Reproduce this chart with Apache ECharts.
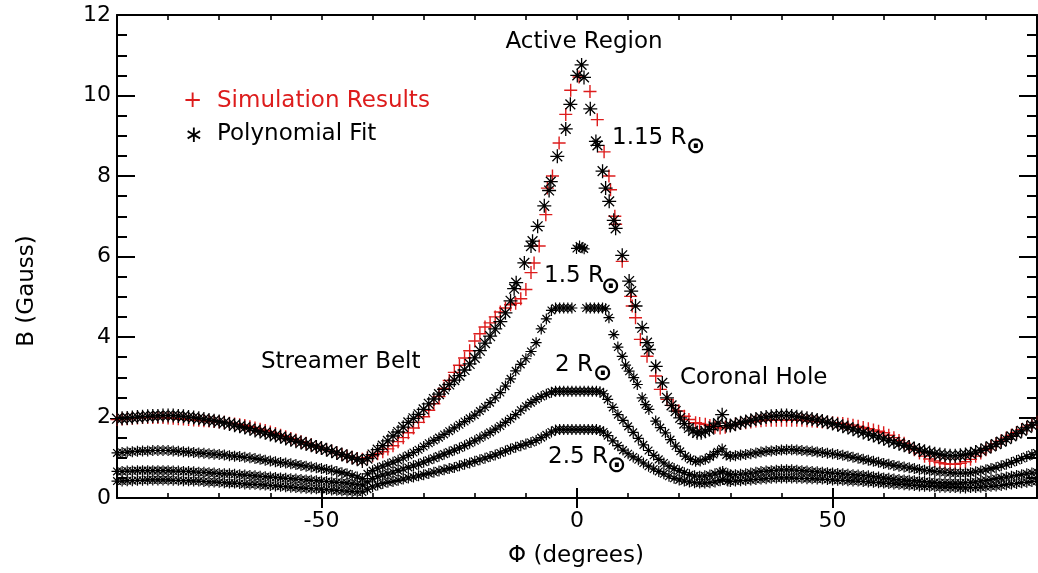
<!DOCTYPE html>
<html><head><meta charset="utf-8">
<script src="https://cdn.jsdelivr.net/npm/echarts@6/dist/echarts.min.js"></script>
<style>html,body{margin:0;padding:0;background:#fff}#main{width:1038px;height:573px}</style>
</head><body><div id="main"></div>
<script>
// ---- phi (degrees) grids ----
const phiLeft = [-90,-89,-88,-87,-86,-85,-84,-83,-82,-81,-80,
  -79,-78,-77,-76,-75,-74,-73,-72,-71,-70,
  -69,-68,-67,-66,-65,-64,-63,-62,-61,-60,
  -59,-58,-57,-56,-55,-54,-53,-52,-51,-50,
  -49,-48,-47,-46,-45,-44,-43,-42];
const phiRiseFit = [-41,-40,-39,-38,-37,-36,-35,-34,-33,
  -32,-31,-30,-29,-28,-27,-26,-25,-24,-23,
  -22,-21,-20,-19,-18,-17,-16,-15,-14,-13];
const phiRiseSim = [-41,-40,-39,-38,-37,-36,-35,-34,-33,
  -32,-31,-30,-29,-28,-27,-26,-25,-24,-23,
  -22,-21,-20,-19,-18,-17,-16,-15,-14,-13,-12,-11];
const phiRiseOuter = [-41,-40,-39,-38,-37,-36,-35,-34,-33,
  -32,-31,-30,-29,-28,-27,-26,-25,-24,-23,
  -22,-21,-20,-19,-18,-17,-16,-15,-14,-13,
  -12,-11,-10,-9,-8,-7,-6,-5];
const phiRight = [31,32,33,34,35,36,37,38,39,
  40,41,42,43,44,45,46,47,48,49,
  50,51,52,53,54,55,56,57,58,59,
  60,61,62,63,64,65,66,67,68,69,
  70,71,72,73,74,75,76,77,78,79,
  80,81,82,83,84,85,86,87,88,89,90];
const phiCoreFit = [-12.3,-11.9,-10.3,-9.0,-8.7,-7.7,-6.4,-5.46,-5.13,-3.85,
  -2.2,-1.3,0.06,0.9,1.37,2.6,3.7,4.0,5.0,5.6,
  6.3,7.2,7.56,8.85,10.2,10.6,11.45,12.75,13.7,14.06,
  15.4,16.7,17.6,18.5,19.3,20.2,21.0,21.9,22.7,23.5,
  24.3,25.1,25.9,26.7,27.6,28.4,29.2,30.0];
const phiCoreSim = [-10,-9,-8.4,-7.4,-6.1,-5.8,-4.8,-3.5,-2.2,-1.23,
  0.4,2.54,3.97,5.3,6.25,6.56,7.4,7.56,8.85,10.5,
  10.8,11.45,12.4,13.7,15.4,16.3,17.6,18.8,19.9,21,
  21.9,23.2,24,25.1,26,27,28,29,30];
const phiCore15 = [-4.2,-3.4,-2.6,-1.8,-1.0,-0.1,0.5,1.0,1.4,1.8,
  2.6,3.4,4.2,5.0,5.6,6.25,7.2,8.0,8.85,9.5,
  10.2,11.1,11.8,12.75,13.4,14.06,15.4,16.3,17.3,18.3,
  19.3,20.2,21.2,22.2,23.2,24.1,25.1,26.0,26.7,27.5,
  28.4,29.2,30.0];
const phiCoreOuter = [-4.2,-3.4,-2.6,-1.8,-1.0,-0.2,0.6,1.4,2.2,3.0,
  3.8,4.5,5.2,6,7,8,9,10,11,12,
  13,14,15,16,17,18,19,20,21,22,
  23,24,25,26,27,28,28.5,29.5,30];

// ---- B (Gauss): simulation results at 1.15 Rsun ----
const simLeft = [1.95,1.96,1.97,1.98,1.99,2.00,2.00,2.00,2.00,2.00,1.99,
  1.98,1.97,1.96,1.95,1.94,1.93,1.92,1.91,1.90,1.89,
  1.88,1.86,1.84,1.82,1.80,1.77,1.74,1.71,1.68,1.64,
  1.60,1.56,1.52,1.48,1.44,1.40,1.36,1.32,1.28,1.24,
  1.20,1.16,1.12,1.08,1.04,1.01,0.98,0.96];
const simRise = [1.00,1.05,1.10,1.15,1.22,1.30,1.40,1.50,1.62,
  1.74,1.88,2.02,2.18,2.34,2.52,2.72,2.92,3.12,3.30,
  3.48,3.66,3.90,4.08,4.25,4.35,4.50,4.62,4.72,4.80,4.84,4.95];
const simCore = [5.18,5.60,5.84,6.26,7.04,7.70,8.00,8.82,9.53,10.13,
  10.46,10.10,9.40,8.60,8.00,7.66,7.00,6.80,5.88,5.01,
  4.77,4.48,3.94,3.52,3.03,2.70,2.45,2.30,2.16,2.03,
  1.95,1.87,1.85,1.83,1.80,1.76,1.74,1.76,1.80];
const simRight = [1.83,1.85,1.87,1.89,1.91,1.92,1.93,1.93,1.93,
  1.93,1.93,1.93,1.93,1.93,1.92,1.91,1.90,1.89,1.88,
  1.87,1.86,1.85,1.83,1.81,1.78,1.75,1.72,1.69,1.66,
  1.62,1.56,1.50,1.43,1.36,1.28,1.20,1.12,1.04,0.97,
  0.92,0.88,0.85,0.84,0.84,0.86,0.90,0.96,1.04,1.12,
  1.20,1.28,1.35,1.42,1.49,1.56,1.63,1.70,1.76,1.82,1.88];

// ---- polynomial fit, 1.15 Rsun ----
const fitLeft = [1.97,1.98,1.99,2.00,2.01,2.02,2.03,2.04,2.04,2.05,2.05,
  2.05,2.04,2.03,2.01,2.00,1.98,1.96,1.94,1.92,1.90,
  1.87,1.84,1.81,1.78,1.75,1.72,1.68,1.65,1.62,1.58,
  1.55,1.52,1.48,1.45,1.41,1.38,1.34,1.31,1.27,1.24,
  1.20,1.16,1.12,1.08,1.04,1.00,0.96,0.92];
const fitRise = [0.98,1.08,1.20,1.30,1.42,1.54,1.64,1.76,1.88,
  1.98,2.08,2.20,2.34,2.46,2.58,2.70,2.82,2.93,3.04,
  3.18,3.33,3.48,3.66,3.85,4.02,4.20,4.38,4.60,4.90];
const fitCore = [5.20,5.35,5.84,6.26,6.38,6.75,7.26,7.64,7.86,8.49,
  9.17,9.78,10.50,10.76,10.45,9.67,8.86,8.76,8.12,7.70,
  7.37,6.90,6.70,6.03,5.39,5.14,4.77,4.23,3.86,3.69,
  3.27,2.86,2.49,2.30,2.16,1.99,1.85,1.74,1.67,1.62,
  1.62,1.66,1.70,1.78,1.86,2.07,1.80,1.80];
const fitRight = [1.83,1.87,1.90,1.93,1.96,1.99,2.01,2.03,2.04,
  2.05,2.05,2.04,2.02,2.00,1.98,1.96,1.94,1.91,1.88,
  1.85,1.82,1.78,1.75,1.71,1.67,1.63,1.59,1.55,1.51,
  1.47,1.43,1.39,1.35,1.31,1.27,1.23,1.19,1.16,1.13,
  1.10,1.08,1.06,1.05,1.05,1.06,1.08,1.10,1.14,1.18,
  1.23,1.28,1.34,1.40,1.46,1.53,1.60,1.67,1.74,1.81,1.88];

// ---- 1.5 Rsun ----
const r15Left = [1.12,1.13,1.14,1.15,1.16,1.17,1.17,1.18,1.18,1.18,1.18,
  1.17,1.16,1.15,1.14,1.13,1.12,1.11,1.10,1.09,1.08,
  1.07,1.05,1.04,1.03,1.01,1.00,0.98,0.96,0.94,0.92,
  0.90,0.88,0.87,0.85,0.83,0.81,0.79,0.77,0.75,0.73,
  0.71,0.69,0.66,0.63,0.60,0.56,0.52,0.48];
const r15Rise = [0.60,0.68,0.74,0.79,0.84,0.89,0.94,1.00,1.06,
  1.13,1.20,1.28,1.36,1.43,1.50,1.58,1.66,1.74,1.82,
  1.90,1.98,2.06,2.16,2.26,2.37,2.49,2.62,2.78,2.96,
  3.16,3.32,3.46,3.64,3.86,4.20,4.45,4.66];
const r15Core = [4.72,4.72,4.72,4.72,4.72,6.20,6.26,6.22,6.19,4.72,
  4.72,4.72,4.72,4.72,4.70,4.48,4.06,3.75,3.52,3.30,
  3.15,2.99,2.82,2.49,2.32,2.20,1.91,1.75,1.62,1.45,
  1.29,1.16,1.04,0.96,0.91,0.92,0.96,1.02,1.08,1.15,
  1.22,1.07,1.04];
const r15Right = [1.05,1.07,1.08,1.10,1.12,1.14,1.16,1.17,1.18,
  1.19,1.20,1.20,1.19,1.18,1.17,1.16,1.14,1.13,1.11,
  1.10,1.08,1.06,1.04,1.01,0.99,0.96,0.94,0.91,0.89,
  0.86,0.84,0.81,0.79,0.77,0.75,0.73,0.71,0.69,0.68,
  0.66,0.65,0.64,0.63,0.62,0.62,0.62,0.63,0.65,0.67,
  0.70,0.73,0.76,0.80,0.84,0.88,0.93,0.98,1.03,1.08,1.12];

// ---- 2 Rsun ----
const r20Left = [0.66,0.66,0.67,0.67,0.68,0.68,0.68,0.68,0.68,0.68,0.68,
  0.67,0.67,0.66,0.66,0.65,0.64,0.64,0.63,0.62,0.61,
  0.60,0.60,0.59,0.58,0.57,0.56,0.55,0.54,0.53,0.52,
  0.51,0.50,0.49,0.48,0.47,0.46,0.45,0.44,0.43,0.42,
  0.41,0.40,0.39,0.38,0.37,0.35,0.33,0.32];
const r20Rise = [0.40,0.48,0.53,0.57,0.60,0.64,0.68,0.72,0.76,
  0.80,0.84,0.89,0.94,0.99,1.04,1.09,1.14,1.19,1.24,
  1.30,1.36,1.42,1.49,1.56,1.63,1.71,1.79,1.88,1.97,
  2.07,2.18,2.28,2.37,2.45,2.52,2.58,2.63];
const r20Core = [2.65,2.65,2.65,2.65,2.65,2.65,2.65,2.65,2.65,2.65,
  2.65,2.64,2.59,2.45,2.25,2.07,1.93,1.78,1.63,1.48,
  1.32,1.18,1.06,0.96,0.87,0.79,0.73,0.68,0.63,0.58,
  0.55,0.54,0.55,0.57,0.60,0.64,0.66,0.60,0.58];
const r20Right = [0.58,0.59,0.60,0.62,0.64,0.66,0.67,0.68,0.69,
  0.70,0.70,0.70,0.69,0.68,0.67,0.66,0.65,0.64,0.63,
  0.62,0.61,0.60,0.59,0.58,0.57,0.56,0.55,0.53,0.52,
  0.50,0.49,0.47,0.46,0.45,0.44,0.43,0.42,0.41,0.40,
  0.39,0.38,0.38,0.37,0.37,0.37,0.38,0.39,0.40,0.42,
  0.44,0.46,0.48,0.50,0.52,0.54,0.56,0.58,0.60,0.62,0.64];

// ---- 2.5 Rsun ----
const r25Left = [0.42,0.42,0.43,0.43,0.44,0.44,0.45,0.45,0.45,0.45,0.45,
  0.44,0.44,0.43,0.43,0.42,0.42,0.41,0.40,0.40,0.39,
  0.38,0.37,0.37,0.36,0.35,0.34,0.34,0.33,0.32,0.31,
  0.30,0.29,0.28,0.27,0.26,0.25,0.24,0.23,0.23,0.22,
  0.21,0.20,0.19,0.18,0.17,0.16,0.15,0.15];
const r25Rise = [0.22,0.28,0.32,0.36,0.39,0.41,0.44,0.47,0.50,
  0.52,0.55,0.58,0.61,0.64,0.67,0.70,0.73,0.76,0.80,
  0.84,0.87,0.91,0.95,0.99,1.03,1.07,1.12,1.17,1.22,
  1.26,1.30,1.34,1.38,1.43,1.50,1.57,1.64];
const r25Core = [1.69,1.70,1.70,1.70,1.70,1.70,1.70,1.70,1.70,1.70,
  1.70,1.68,1.64,1.55,1.42,1.30,1.19,1.10,1.02,0.95,
  0.87,0.79,0.72,0.66,0.60,0.54,0.49,0.45,0.42,0.40,
  0.38,0.37,0.37,0.38,0.40,0.43,0.46,0.42,0.41];
const r25Right = [0.42,0.43,0.44,0.45,0.46,0.47,0.48,0.49,0.50,
  0.50,0.50,0.50,0.49,0.49,0.48,0.48,0.47,0.47,0.46,
  0.45,0.44,0.44,0.43,0.42,0.42,0.41,0.40,0.39,0.38,
  0.37,0.36,0.35,0.34,0.33,0.32,0.31,0.30,0.29,0.29,
  0.28,0.27,0.27,0.26,0.26,0.25,0.25,0.26,0.26,0.27,
  0.28,0.29,0.30,0.31,0.33,0.35,0.36,0.38,0.39,0.41,0.42];

// ---- axis ticks / labels ----
const xLabelValues = [-50, 0, 50];
const xMajorTicks = [-50, 0, 50];
const legendLabels = ['Simulation Results', 'Polynomial Fit'];

function pairs(phis, vals) { return phis.map((p, i) => [p, vals[i]]); }
const simData = pairs([].concat(phiLeft, phiRiseSim, phiCoreSim, phiRight), [].concat(simLeft, simRise, simCore, simRight));
const fitData = pairs([].concat(phiLeft, phiRiseFit, phiCoreFit, phiRight), [].concat(fitLeft, fitRise, fitCore, fitRight));
const r15Data = pairs([].concat(phiLeft, phiRiseOuter, phiCore15, phiRight), [].concat(r15Left, r15Rise, r15Core, r15Right));
const r20Data = pairs([].concat(phiLeft, phiRiseOuter, phiCoreOuter, phiRight), [].concat(r20Left, r20Rise, r20Core, r20Right));
const r25Data = pairs([].concat(phiLeft, phiRiseOuter, phiCoreOuter, phiRight), [].concat(r25Left, r25Rise, r25Core, r25Right));

const RED = '#dd1c1c';
const FONT = 'DejaVu Sans';
const AST = 'path://M5 0L5 10M0 5L10 5M1.5 1.5L8.5 8.5M8.5 1.5L1.5 8.5';
const PLUS = 'path://M5 0L5 10M0 5L10 5';

function sc(name, data, sym, size, color, w) {
  return { type: 'scatter', name, data, symbol: sym, symbolSize: size, silent: true, clip: false,
    itemStyle: { color: color, borderColor: color, borderWidth: w, opacity: 1 },
    emphasis: { disabled: true } };
}

const axisLine = { onZero: false, lineStyle: { color: '#000', width: 2 } };
function xAx(pos, main) {
  return { type: 'value', min: -90, max: 90, interval: 10, position: pos, axisLine,
    axisTick: { inside: true, length: 5, lineStyle: { color: '#000', width: 1.6 } },
    axisLabel: main ? { customValues: xLabelValues, fontSize: 22, color: '#000', fontFamily: FONT, margin: 12 } : { show: false },
    splitLine: { show: false } };
}
function xMaj(pos) {
  return { type: 'value', min: -90, max: 90, position: pos, axisLine: { show: false },
    axisTick: { inside: true, length: 10, customValues: xMajorTicks, lineStyle: { color: '#000', width: 2 } },
    axisLabel: { show: false }, splitLine: { show: false } };
}
function yAx(pos, main) {
  return { type: 'value', min: 0, max: 12, interval: 2, position: pos, axisLine,
    axisTick: { inside: true, length: 18, lineStyle: { color: '#000', width: 2 } },
    minorTick: { show: true, splitNumber: 4, length: 10, lineStyle: { color: '#000', width: 2 } },
    axisLabel: main ? { fontSize: 22, color: '#000', fontFamily: FONT, margin: 6 } : { show: false },
    splitLine: { show: false } };
}

function txt(text, x, y, opts) {
  return Object.assign({ type: 'text', x, y, silent: true,
    style: Object.assign({ text, fill: '#000', font: '23px "DejaVu Sans"', textAlign: 'left', textVerticalAlign: 'middle' }, (opts && opts.style) || {}) },
    opts && opts.extra ? opts.extra : {});
}
const sub = { style: { font: 'bold 23px "DejaVu Sans"' } };

const chart = echarts.init(document.getElementById('main'));
chart.setOption({
  animation: false,
  backgroundColor: '#fff',
  grid: { left: 117, right: 1, top: 15, bottom: 75 },
  xAxis: [xAx('bottom', true), xAx('top', false), xMaj('bottom'), xMaj('top')],
  yAxis: [yAx('left', true), yAx('right', false)],
  series: [
    sc('Simulation Results', simData, PLUS, 13, RED, 1.4),
    sc('Polynomial Fit', fitData, AST, 14, '#000', 1.3),
    sc('1.5', r15Data, AST, 11, '#000', 1.2),
    sc('2', r20Data, AST, 11, '#000', 1.2),
    sc('2.5', r25Data, AST, 11, '#000', 1.2)
  ],
  graphic: [
    txt('Active Region', 584, 42, { style: { textAlign: 'center' } }),
    txt('1.15 R', 612, 138), txt('\u2299', 686, 147, sub),
    txt('1.5 R', 544, 276), txt('\u2299', 601, 287, sub),
    txt('2 R', 555, 365), txt('\u2299', 593, 374, sub),
    txt('2.5 R', 548, 457), txt('\u2299', 607, 466, sub),
    txt('Streamer Belt', 261, 362),
    txt('Coronal Hole', 680, 378),
    txt('+', 183, 101, { style: { fill: RED } }),
    txt(legendLabels[0], 217, 101, { style: { fill: RED } }),
    txt('\u2217', 184, 136),
    txt(legendLabels[1], 217, 134),
    txt('B (Gauss)', 27, 291, { style: { textAlign: 'center' }, extra: { rotation: Math.PI / 2 } }),
    txt('\u03A6 (degrees)', 576, 556, { style: { textAlign: 'center' } })
  ]
});
</script></body></html>
